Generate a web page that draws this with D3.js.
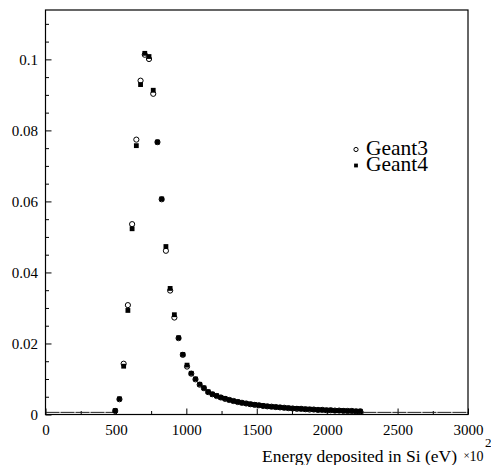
<!DOCTYPE html>
<html><head><meta charset="utf-8">
<script src="https://cdn.jsdelivr.net/npm/d3@7"></script>
<style>body{margin:0;background:#fff}svg{display:block}svg text{font-family:'Liberation Serif','Times New Roman',serif}</style>
</head><body>
<svg id="c" width="491" height="465"></svg>
<script>
// ---- data (bin centres in units of 100 eV, bin width 30) ----
const binEnergies = [495,525,555,585,615,645,675,705,735,765,795,825,855,885,915,945,975,1005,1035,1065,1095,1125,
  1155,1185,1215,1245,1275,1305,1335,1365,1395,1425,1455,1485,1515,1545,1575,1605,1635,1665,1695,1725,1755,1785,1815,1845,1875,1905,1935,1965,1995,2025,2055,2085,2115,2145,2175,2205,2235];
const geant3 = [0.0010,0.0043,0.0143,0.0308,0.0536,0.0774,0.0940,0.1013,0.1001,0.0903,0.0767,0.0606,0.0461,0.0349,0.0273,0.0215,0.0168,0.0135,0.0115,0.0099,0.0084,0.0074,
  0.0063,0.0057,0.0052,0.0048,0.0044,0.0041,0.0038,0.0035,0.0033,0.0031,0.0029,0.0027,0.0026,0.0024,0.0023,0.0022,0.0021,0.0020,0.0019,0.0018,0.0017,0.0016,0.0016,0.0015,0.0014,0.0014,0.0013,0.0013,0.0012,0.0012,0.0011,0.0011,0.0010,0.0010,0.0010,0.0009,0.0009];
const geant4 = [0.0011,0.0044,0.0136,0.0293,0.0523,0.0757,0.0929,0.1017,0.1008,0.0913,0.0767,0.0607,0.0473,0.0355,0.0281,0.0216,0.0169,0.0139,0.0116,0.0100,0.0085,0.0075,
  0.0064,0.0057,0.0053,0.0048,0.0045,0.0041,0.0038,0.0036,0.0033,0.0031,0.0029,0.0028,0.0026,0.0025,0.0023,0.0022,0.0021,0.0020,0.0019,0.0018,0.0017,0.0017,0.0016,0.0015,0.0015,0.0014,0.0013,0.0013,0.0012,0.0012,0.0011,0.0011,0.0011,0.0010,0.0010,0.0009,0.0009];
const nearEmptyRanges = [[0, 480], [2250, 3000]];
const nearEmptyLevel = 0.0006;
const seriesNames = ["Geant3", "Geant4"];
const xMajorTicks = [0,500,1000,1500,2000,2500,3000];
const xMinorTicks = [250,750,1250,1750,2250,2750];
const yMajorTicks = [0,0.02,0.04,0.06,0.08,0.1];
const yTickLabels = ["0","0.02","0.04","0.06","0.08","0.1"];
const yMinorTicks = [0.005,0.01,0.015,0.025,0.03,0.035,0.045,0.05,0.055,0.065,0.07,0.075,0.085,0.09,0.095,0.105,0.11];
const xTitle = "Energy deposited in Si (eV)";

// ---- layout ----
const L = 45.5, R = 468, T = 10, B = 414.5;
const FONT = "'Liberation Serif','Times New Roman',serif";
const svg = d3.select("#c");
const x = d3.scaleLinear().domain([0, 3000]).range([L, R]);
const y = d3.scaleLinear().domain([0, 0.1139]).range([B, T]);

// axes
const gx = svg.append("g").attr("transform", `translate(0,${B})`)
  .call(d3.axisBottom(x).tickValues(xMajorTicks).tickSize(-6).tickPadding(10).tickFormat(d3.format("d")));
const gxm = svg.append("g").attr("transform", `translate(0,${B})`)
  .call(d3.axisBottom(x).tickValues(xMinorTicks).tickSize(-3.5).tickFormat(""));
const gy = svg.append("g").attr("transform", `translate(${L},0)`)
  .call(d3.axisLeft(y).tickValues(yMajorTicks).tickSize(-6).tickPadding(7.5).tickFormat((d,i) => yTickLabels[i]));
const gym = svg.append("g").attr("transform", `translate(${L},0)`)
  .call(d3.axisLeft(y).tickValues(yMinorTicks).tickSize(-3.5).tickFormat(""));
[gx, gxm, gy, gym].forEach(g => {
  g.attr("font-family", FONT).attr("font-size", 15);
  g.select(".domain").remove();
  g.selectAll(".tick line").attr("stroke", "#000").attr("stroke-width", 1);
  g.selectAll("text").style("font-family", FONT).style("font-size", "15px").attr("fill", "#000");
});

// near-empty bins drawn as thin horizontal bars
svg.append("g").selectAll("line").data(nearEmptyRanges).join("line")
  .attr("x1", d => x(d[0])).attr("x2", d => x(d[1]))
  .attr("y1", y(nearEmptyLevel)).attr("y2", y(nearEmptyLevel))
  .attr("stroke", "#222").attr("stroke-width", 1).attr("stroke-dasharray", "14,1");

// frame
svg.append("rect").attr("x", L).attr("y", T).attr("width", R - L).attr("height", B - T)
  .attr("fill", "none").attr("stroke", "#000").attr("stroke-width", 1.2);

// Geant4: filled squares
const sq = 4.8;
svg.append("g").selectAll("rect").data(binEnergies).join("rect")
  .attr("x", (d) => x(d) - sq / 2).attr("y", (d, i) => y(geant4[i]) - sq / 2)
  .attr("width", sq).attr("height", sq).attr("fill", "#000");

// Geant3: open circles
svg.append("g").selectAll("circle").data(binEnergies).join("circle")
  .attr("cx", d => x(d)).attr("cy", (d, i) => y(geant3[i])).attr("r", 2.6)
  .attr("fill", "none").attr("stroke", "#000").attr("stroke-width", 1);

// legend
const leg = svg.append("g");
leg.append("circle").attr("cx", 356).attr("cy", 149.5).attr("r", 2.1)
  .attr("fill", "none").attr("stroke", "#000").attr("stroke-width", 1);
leg.append("rect").attr("x", 356 - 1.9).attr("y", 165.5 - 1.9).attr("width", 3.8).attr("height", 3.8).attr("fill", "#000");
const legText = leg.append("text").attr("font-size", 21.5).attr("fill", "#000");
legText.selectAll("tspan").data(seriesNames).join("tspan")
  .attr("x", 366).attr("y", (d, i) => 155 + i * 15.5).text(d => d);

// axis title and exponent
svg.append("text").attr("x", 457).attr("y", 462).attr("text-anchor", "end")
  .attr("font-size", 17.5).attr("fill", "#000").text(xTitle);
svg.append("text").attr("x", 463.5).attr("y", 459).attr("font-size", 11).attr("fill", "#000").text("×");
svg.append("text").attr("x", 469.5).attr("y", 461).attr("font-size", 14).attr("fill", "#000").text("10");
svg.append("text").attr("x", 485).attr("y", 447).attr("font-size", 13).attr("fill", "#000").text("2");
</script>
</body></html>
